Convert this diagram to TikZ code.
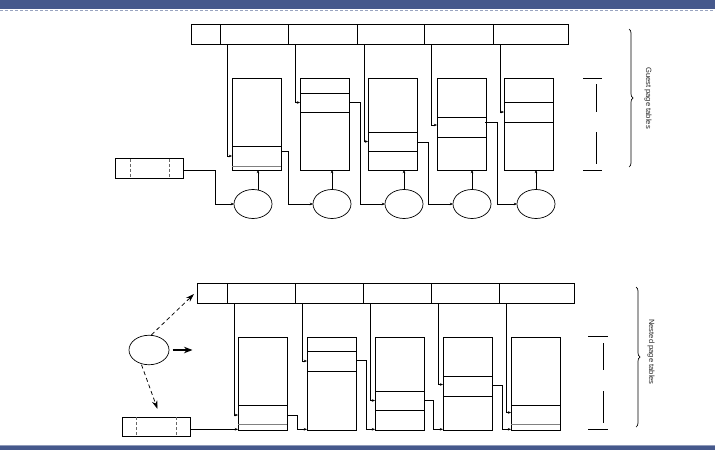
\documentclass[tikz,border=0pt]{standalone}
\usepackage{fontspec}
\setmainfont{Liberation Sans}
\usetikzlibrary{arrows.meta,shapes.geometric,decorations.pathreplacing,calc}
\definecolor{hdr}{RGB}{70,89,140}
\tikzset{
  box/.style={draw, inner sep=0pt, outer sep=0pt, anchor=north west, line width=0.7pt},
  ell/.style={draw, ellipse, inner sep=0pt, outer sep=0pt, line width=0.7pt},
  conn/.style={line width=0.6pt, -{Stealth[length=3.2pt,width=2.6pt]}},
  dashdiv/.style={line width=0.7pt, draw=black!60, dash pattern=on 3pt off 2pt},
  bigdash/.style={line width=0.75pt, dash pattern=on 4pt off 3pt, -{Stealth[length=8.5pt,width=5.5pt]}},
  bigarrow/.style={line width=1.4pt, -{Stealth[length=8.5pt,width=6.5pt]}},
  thinline/.style={line width=0.7pt},
  brc/.style={decorate, decoration={brace, amplitude=4pt}, line width=0.7pt},
  lab/.style={rotate=-90, font=\fontsize{7.6}{9}\selectfont, text=black!85}
}
\begin{document}
\begin{tikzpicture}[x=1pt,y=-1pt]
\useasboundingbox (0,0) rectangle (715,450);
% header and footer bars
\fill[hdr] (0,0) rectangle (715,9);
\draw[hdr!55, line width=1pt, dash pattern=on 3pt off 2pt] (0,10) -- (715,10);
\fill[hdr] (0,445) rectangle (715,450);
\draw[hdr!60, line width=0.8pt] (0,445.4) -- (715,445.4);

% ================= GUEST (top) =================
\node[box, minimum width=29pt, minimum height=20pt] (g0) at (191,24) {};
\node[box, minimum width=68pt, minimum height=20pt] (g1) at (220,24) {};
\node[box, minimum width=69pt, minimum height=20pt] (g2) at (288,24) {};
\node[box, minimum width=67pt, minimum height=20pt] (g3) at (357,24) {};
\node[box, minimum width=69pt, minimum height=20pt] (g4) at (424,24) {};
\node[box, minimum width=75pt, minimum height=20pt] (g5) at (493,24) {};

\foreach \i/\x/\rt/\rb/\ay in {1/232/146/166/156, 2/300/93/112/102.5, 3/368/132/151/141.5, 4/437/117/137/125, 5/504/102/122/112}{
  \node[box, minimum width=49pt, minimum height=92pt] (gt\i) at (\x,78) {};
  \draw[thinline] (\x,\rt) -- ++(49,0);
  \draw[thinline] (\x,\rb) -- ++(49,0);
  \coordinate (gin\i) at (\x,\ay);
}
\draw[thinline, draw=black!50] (232,166) -- ++(49,0);

\foreach \i in {1,...,5}{
  \draw[conn] ([xshift=7pt]g\i.south west) |- (gin\i);
}

\foreach \i/\x in {1/253,2/332,3/404,4/472,5/536}{
  \node[ell, minimum width=38pt, minimum height=29pt] (ge\i) at (\x,204) {};
}
\draw[conn] ([xshift=5pt]ge1.north) -- ([xshift=5pt]ge1.north |- gt1.south);
\foreach \i in {2,...,5}{
  \draw[conn] (ge\i.north) -- (ge\i.north |- gt\i.south);
}

\node[box, minimum width=68pt, minimum height=19.5pt] (greg) at (115,158.5) {};
\draw[dashdiv] ([xshift=15pt]greg.north west) -- ([xshift=15pt]greg.south west);
\draw[dashdiv] ([xshift=54pt]greg.north west) -- ([xshift=54pt]greg.south west);

\coordinate (gr0) at (183,170);  \coordinate (gk0) at (215,204);
\coordinate (gr1) at (281,151);  \coordinate (gk1) at (288,204);
\coordinate (gr2) at (349,102);  \coordinate (gk2) at (360,204);
\coordinate (gr3) at (417,142);  \coordinate (gk3) at (428,204);
\coordinate (gr4) at (485,122);  \coordinate (gk4) at (497,204);
\draw[conn] (gr0) -| (gk0) -- (ge1.west);
\draw[conn] (gr1) -| (gk1) -- (ge2.west);
\draw[conn] (gr2) -| (gk2) -- (ge3.west);
\draw[conn] (gr3) -| (gk3) -- (ge4.west);
\draw[conn] (gr4) -| (gk4) -- (ge5.west);

\coordinate (gib1) at (583,78); \coordinate (gib2) at (602,78);
\coordinate (gib3) at (583,170); \coordinate (gib4) at (602,170);
\draw[thinline] (gib1) -- (gib2);
\draw[thinline] (gib3) -- (gib4);
\draw[thinline] (596,84) -- (596,112);
\draw[thinline] (596,132) -- (596,164);

\coordinate (gbt) at (629,29); \coordinate (gbb) at (629,167);
\draw[brc] (gbt) -- (gbb);
\node[lab] (glab) at (648,98) {Guest page tables};

% ================= NESTED (bottom) =================
\node[box, minimum width=30pt, minimum height=20pt] (n0) at (197,283) {};
\node[box, minimum width=68pt, minimum height=20pt] (n1) at (227,283) {};
\node[box, minimum width=68pt, minimum height=20pt] (n2) at (295,283) {};
\node[box, minimum width=68pt, minimum height=20pt] (n3) at (363,283) {};
\node[box, minimum width=68pt, minimum height=20pt] (n4) at (431,283) {};
\node[box, minimum width=75pt, minimum height=20pt] (n5) at (499,283) {};

\foreach \i/\x/\rt/\rb/\ay in {1/238/405/424/415, 2/307/351/371/361, 3/375/391/410/400.5, 4/443/376/396/384.5, 5/511/405/424/412.5}{
  \node[box, minimum width=49pt, minimum height=93pt] (nt\i) at (\x,337) {};
  \draw[thinline] (\x,\rt) -- ++(49,0);
  \draw[thinline] (\x,\rb) -- ++(49,0);
  \coordinate (nin\i) at (\x,\ay);
  \coordinate (nbot\i) at (\x,429.3);
}
\draw[thinline, draw=black!50] (238,424) -- ++(49,0);
\draw[thinline, draw=black!50] (511,424) -- ++(49,0);

\foreach \i in {1,...,5}{
  \draw[conn] ([xshift=7pt]n\i.south west) |- (nin\i);
}

\node[box, minimum width=68pt, minimum height=19.5pt] (nreg) at (122,417.3) {};
\draw[dashdiv] ([xshift=14pt]nreg.north west) -- ([xshift=14pt]nreg.south west);
\draw[dashdiv] ([xshift=54pt]nreg.north west) -- ([xshift=54pt]nreg.south west);

\coordinate (nr0) at (190,429.3);
\coordinate (nr1) at (287,415.3); \coordinate (nk1) at (297,429.3);
\coordinate (nr2) at (356,360.7); \coordinate (nk2) at (366,429.3);
\coordinate (nr3) at (424,400.7); \coordinate (nk3) at (433,429.3);
\coordinate (nr4) at (492,385.7); \coordinate (nk4) at (502,429.3);
\draw[conn] (nr0) -- (nbot1);
\draw[conn] (nr1) -| (nk1) -- (nbot2);
\draw[conn] (nr2) -| (nk2) -- (nbot3);
\draw[conn] (nr3) -| (nk3) -- (nbot4);
\draw[conn] (nr4) -| (nk4) -- (nbot5);

\node[ell, minimum width=40pt, minimum height=29.5pt] (nell) at (149,350) {};
\coordinate (nd1) at (194,294);
\coordinate (nd2) at (157.5,409);
\coordinate (nd3) at (192.5,350);
\draw[bigdash] ([shift={(2.5,-0.5)}]nell.north) -- (nd1);
\draw[bigdash] ([shift={(-7.5,0)}]nell.south) -- (nd2);
\draw[bigarrow] ([xshift=3.5pt]nell.east) -- (nd3);

\coordinate (nib1) at (588,336); \coordinate (nib2) at (608,336);
\coordinate (nib3) at (588,429.3); \coordinate (nib4) at (608,429.3);
\draw[thinline] (nib1) -- (nib2);
\draw[thinline] (nib3) -- (nib4);
\draw[thinline] (603,343) -- (603,370);
\draw[thinline] (603,391) -- (603,423);

\coordinate (nbt) at (636,287); \coordinate (nbb) at (636,427);
\draw[brc] (nbt) -- (nbb);
\node[lab] (nlab) at (651,352) {Nested page tables};
\end{tikzpicture}
\end{document}
